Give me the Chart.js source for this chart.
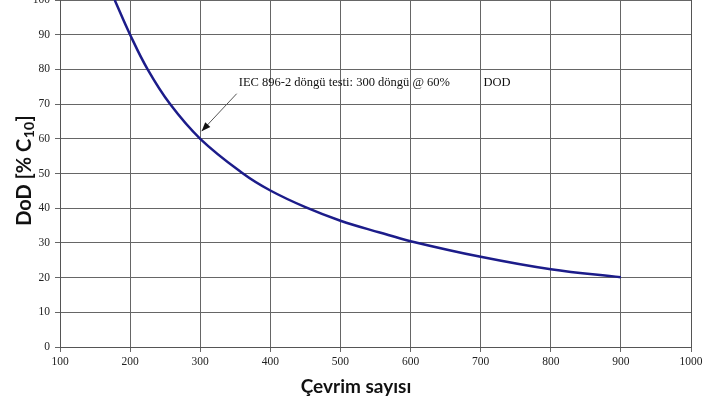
<!DOCTYPE html>
<html>
<head>
<meta charset="utf-8">
<script src="https://cdn.jsdelivr.net/npm/chart.js@4.4.0/dist/chart.umd.min.js"></script>
<style>
html,body{margin:0;padding:0;background:#fff;}
#wrap{position:relative;width:717px;height:405px;overflow:hidden;}
</style>
</head>
<body>
<div id="wrap"><canvas id="c" width="717" height="405"></canvas></div>
<script>
// Data
const cycles = [178, 200, 225, 257, 300, 361, 400, 450, 500, 556, 600, 700, 800, 900];
const dod    = [100, 90, 80, 70, 60, 50, 45.1, 40.3, 36.4, 33.0, 30.5, 26.0, 22.4, 20.1];
const xTicks = [100, 200, 300, 400, 500, 600, 700, 800, 900, 1000];
const yTicks = [0, 10, 20, 30, 40, 50, 60, 70, 80, 90, 100];
const yTitleMain = "DoD [% C";
const yTitleSub = "10";
const yTitleEnd = "]";
const xTitle = "Çevrim sayısı";
const noteText = "IEC 896-2 döngü testi: 300 döngü @ 60%";
const noteText2 = "DOD";

const points = cycles.map((c, i) => ({x: c, y: dod[i]}));

const decor = {
  id: 'decor',
  afterDraw(chart) {
    const ctx = chart.ctx;
    const xs = chart.scales.x, ys = chart.scales.y;
    ctx.save();
    // annotation text
    ctx.fillStyle = '#111';
    ctx.font = '12.5px "Liberation Serif", serif';
    ctx.textBaseline = 'alphabetic';
    ctx.textAlign = 'left';
    const tx = xs.getPixelForValue(355), ty = ys.getPixelForValue(75.2);
    ctx.fillText(noteText, tx, ty);
    ctx.fillText(noteText2, xs.getPixelForValue(704), ty);
    // arrow
    const x0 = xs.getPixelForValue(352), y0 = ys.getPixelForValue(73);
    const x1 = xs.getPixelForValue(302), y1 = ys.getPixelForValue(62.2);
    ctx.strokeStyle = '#555';
    ctx.lineWidth = 1;
    ctx.beginPath(); ctx.moveTo(x0, y0); ctx.lineTo(x1, y1); ctx.stroke();
    const ang = Math.atan2(y1 - y0, x1 - x0);
    const L = 9, W = 3.5;
    ctx.fillStyle = '#111';
    ctx.beginPath();
    ctx.moveTo(x1, y1);
    ctx.lineTo(x1 - L*Math.cos(ang) + W*Math.sin(ang), y1 - L*Math.sin(ang) - W*Math.cos(ang));
    ctx.lineTo(x1 - L*Math.cos(ang) - W*Math.sin(ang), y1 - L*Math.sin(ang) + W*Math.cos(ang));
    ctx.closePath(); ctx.fill();

    // x title
    ctx.fillStyle = '#111';
    ctx.font = 'bold 19px "Lato", sans-serif';
    ctx.textAlign = 'center';
    ctx.textBaseline = 'alphabetic';
    ctx.fillText(xTitle, 356, 393);

    // y title (rotated, with subscript)
    ctx.translate(31, 171);
    ctx.rotate(-Math.PI/2);
    const fMain = 'bold 20px "Lato", sans-serif';
    const fSub = 'bold 14px "Lato", sans-serif';
    ctx.font = fMain; const w1 = ctx.measureText(yTitleMain).width;
    const w3 = ctx.measureText(yTitleEnd).width;
    ctx.font = fSub; const w2 = ctx.measureText(yTitleSub).width;
    let sx = -(w1 + w2 + w3) / 2;
    ctx.textAlign = 'left';
    ctx.font = fMain; ctx.fillText(yTitleMain, sx, 0); sx += w1;
    ctx.font = fSub; ctx.fillText(yTitleSub, sx + 0.5, 3); sx += w2 + 1;
    ctx.font = fMain; ctx.fillText(yTitleEnd, sx, 0);
    ctx.restore();
  }
};

new Chart(document.getElementById('c'), {
  type: 'line',
  data: {
    datasets: [{
      data: points,
      borderColor: '#1c1c8a',
      borderWidth: 2.5,
      pointRadius: 0,
      tension: 0.4,
      fill: false
    }]
  },
  options: {
    responsive: false,
    animation: false,
    events: [],
    layout: {padding: {top: 0, right: 26, left: 0, bottom: 0}},
    plugins: {legend: {display: false}, tooltip: {enabled: false}},
    scales: {
      x: {
        type: 'linear', min: 100, max: 1000,
        afterBuildTicks(s) { s.ticks = xTicks.map(v => ({value: v})); },
        afterFit(s) { s.height = 58; },
        grid: {color: '#666', lineWidth: 1, tickLength: 5, drawTicks: true},
        border: {color: '#555', width: 1},
        ticks: {color: '#222', padding: 3, maxRotation: 0, autoSkip: false,
                callback: v => String(v),
                font: {family: '"Liberation Serif", serif', size: 11.5}}
      },
      y: {
        type: 'linear', min: 0, max: 100,
        afterBuildTicks(s) { s.ticks = yTicks.map(v => ({value: v})); },
        afterFit(s) { s.width = 60; s.paddingTop = 0; },
        grid: {color: '#666', lineWidth: 1, tickLength: 5, drawTicks: true},
        border: {color: '#555', width: 1},
        ticks: {color: '#222', padding: 5,
                callback: v => String(v),
                font: {family: '"Liberation Serif", serif', size: 11.5}}
      }
    }
  },
  plugins: [decor, {
    id: 'rightBorder',
    afterDraw(chart) {
      const a = chart.chartArea, ctx = chart.ctx;
      ctx.save(); ctx.strokeStyle = '#555'; ctx.lineWidth = 1;
      ctx.beginPath(); ctx.moveTo(Math.round(a.right)+0.5, a.top); ctx.lineTo(Math.round(a.right)+0.5, a.bottom); ctx.stroke();
      ctx.restore();
    }
  }]
});
</script>
</body>
</html>
